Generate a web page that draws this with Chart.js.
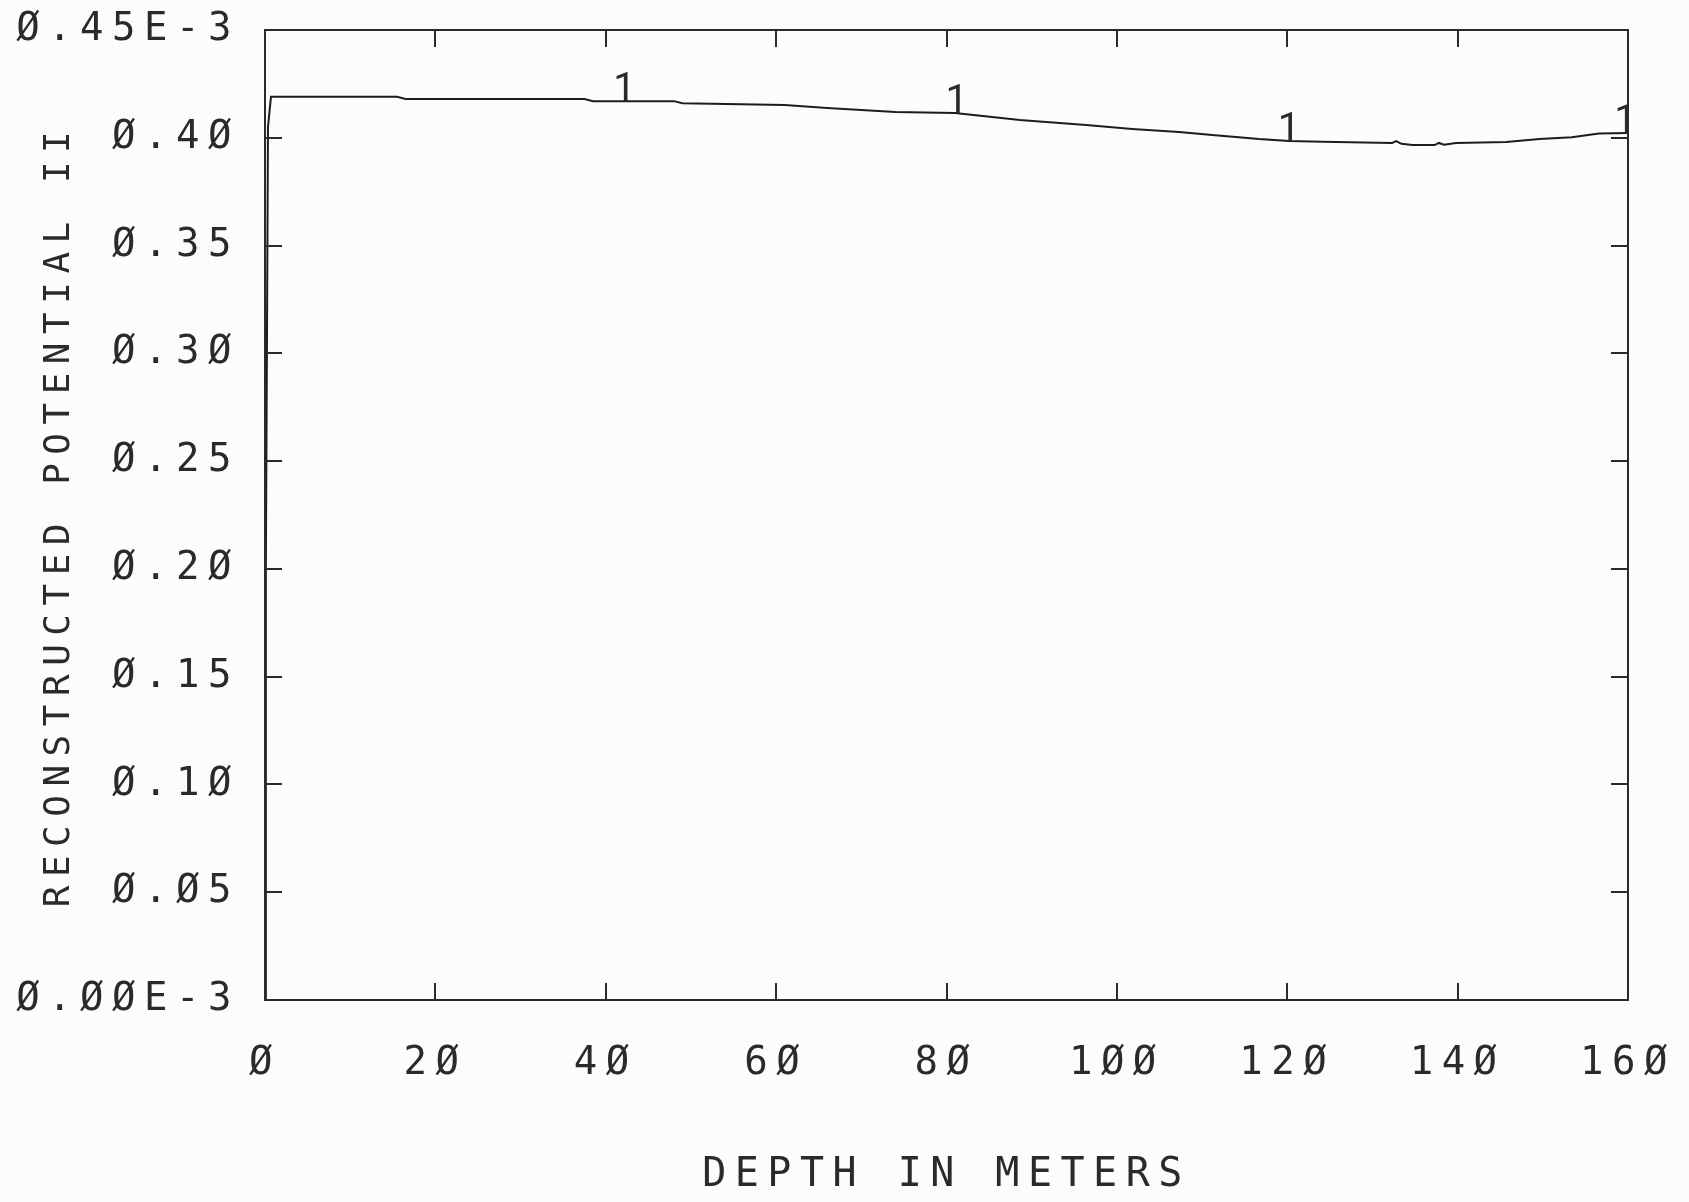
<!DOCTYPE html>
<html>
<head>
<meta charset="utf-8">
<title>Reconstructed potential vs depth</title>
<script src="https://cdn.jsdelivr.net/npm/chart.js@4.4.1/dist/chart.umd.min.js"></script>
<style>
  html, body { margin: 0; padding: 0; background: #fcfcfc; }
  #plot { display: block; }
</style>
</head>
<body>
<canvas id="plot" width="1689" height="1202"></canvas>
<script>
// depth in meters and potential (x 1E-3)
const depth = [0, 0.1, 0.35, 0.7, 15.5, 16.5, 37.5, 38.5, 48, 49, 61, 66, 74, 81,
    88.6, 96.4, 101.8, 107.3, 111.2, 116.7, 120.2, 124.1, 132.3, 132.8, 133.4,
    134.7, 137.3, 137.8, 138.4, 139.8, 145.7, 149.6, 153.4, 156.6, 160];
const potential = [0, 0.2, 0.405, 0.419, 0.419, 0.418, 0.418, 0.417, 0.417, 0.416,
    0.4152, 0.4138, 0.412, 0.4115, 0.4082, 0.4059, 0.4041, 0.4027, 0.4013, 0.3994,
    0.3985, 0.3981, 0.3976, 0.3985, 0.3972, 0.3966, 0.3966, 0.3976, 0.3968, 0.3976,
    0.398, 0.3994, 0.4003, 0.402, 0.4022];

// curve label "1" positions
const markerDepth = [42.2, 81.2, 120.2, 159.7];
const markerPotential = [0.4172, 0.4115, 0.3985, 0.402];

const xTicks = [0, 20, 40, 60, 80, 100, 120, 140, 160];
const xTickLabels = ['Ø', '2Ø', '4Ø', '6Ø', '8Ø', '1ØØ', '12Ø', '14Ø', '16Ø'];
const yTicks = [0, 0.05, 0.10, 0.15, 0.20, 0.25, 0.30, 0.35, 0.40, 0.45];
const yTickLabels = ['Ø.ØØE-3', 'Ø.Ø5', 'Ø.1Ø', 'Ø.15', 'Ø.2Ø', 'Ø.25', 'Ø.3Ø', 'Ø.35', 'Ø.4Ø', 'Ø.45E-3'];

const INK = '#2a2a2a';
const MONO = '"DejaVu Sans Mono", monospace';
const FONT = { family: MONO, size: 39, weight: 'normal', lineHeight: 1 };
const SPACING = '8.5px';
const TICK_LEN = 17;

function labelFor(values, labels, v) {
    const i = values.findIndex(t => Math.abs(t - v) < 1e-6);
    return i >= 0 ? labels[i] : '';
}

// plotter font is fixed pitch and widely spaced
const spacingPlugin = {
    id: 'spacing',
    beforeDraw(chart) {
        chart.ctx.letterSpacing = SPACING;
    }
};

// box frame with inward ticks on all four sides
const framePlugin = {
    id: 'frame',
    afterDraw(chart) {
        const { ctx, chartArea: a, scales: { x, y } } = chart;
        ctx.save();
        ctx.strokeStyle = INK;
        ctx.lineWidth = 2;
        ctx.strokeRect(a.left, a.top, a.right - a.left, a.bottom - a.top);
        ctx.beginPath();
        xTicks.slice(1, -1).forEach(v => {
            const px = Math.round(x.getPixelForValue(v));
            ctx.moveTo(px, a.bottom);
            ctx.lineTo(px, a.bottom - TICK_LEN);
            ctx.moveTo(px, a.top);
            ctx.lineTo(px, a.top + TICK_LEN);
        });
        yTicks.slice(1, -1).forEach(v => {
            const py = Math.round(y.getPixelForValue(v));
            ctx.moveTo(a.left, py);
            ctx.lineTo(a.left + TICK_LEN, py);
            ctx.moveTo(a.right, py);
            ctx.lineTo(a.right - TICK_LEN, py);
        });
        ctx.stroke();
        ctx.restore();
    }
};

// curve number labels sitting on the line
const curveLabelPlugin = {
    id: 'curveLabel',
    afterDatasetsDraw(chart) {
        const { ctx, scales: { x, y } } = chart;
        ctx.save();
        ctx.letterSpacing = '0px';
        ctx.fillStyle = INK;
        ctx.font = '400 40px Roboto, sans-serif';
        ctx.textAlign = 'center';
        ctx.textBaseline = 'alphabetic';
        markerDepth.forEach((d, i) => {
            ctx.fillText('1', x.getPixelForValue(d), y.getPixelForValue(markerPotential[i]));
        });
        ctx.restore();
    }
};

const ctx = document.getElementById('plot').getContext('2d');
const chart = new Chart(ctx, {
    type: 'line',
    data: {
        datasets: [{
            label: '1',
            data: depth.map((d, i) => ({ x: d, y: potential[i] })),
            borderColor: '#1c1c1c',
            borderWidth: 2,
            pointRadius: 0,
            tension: 0,
            fill: false
        }]
    },
    options: {
        responsive: false,
        animation: false,
        devicePixelRatio: 1,
        layout: { padding: { top: 30, right: 61, left: 0, bottom: 0 } },
        plugins: {
            legend: { display: false },
            tooltip: { enabled: false }
        },
        scales: {
            x: {
                type: 'linear',
                min: 0,
                max: 160,
                grid: { display: false, drawTicks: false },
                border: { display: false },
                afterBuildTicks: s => { s.ticks = xTicks.map(v => ({ value: v })); },
                afterFit: s => {
                    s.height = 202;
                    s.paddingLeft = 0;
                    s.paddingRight = 0;
                },
                ticks: {
                    autoSkip: false,
                    maxRotation: 0,
                    padding: 44,
                    color: INK,
                    font: FONT,
                    callback: v => labelFor(xTicks, xTickLabels, v)
                },
                title: {
                    display: true,
                    text: 'DEPTH IN METERS',
                    color: INK,
                    font: { family: MONO, size: 40, lineHeight: 1 },
                    padding: { top: 0, bottom: 6 }
                }
            },
            y: {
                type: 'linear',
                min: 0,
                max: 0.45,
                grid: { display: false, drawTicks: false },
                border: { display: false },
                afterBuildTicks: s => { s.ticks = yTicks.map(v => ({ value: v })); },
                afterFit: s => {
                    s.width = 265;
                    s.paddingTop = 0;
                    s.paddingBottom = 0;
                },
                ticks: {
                    autoSkip: false,
                    padding: 25,
                    color: INK,
                    font: FONT,
                    callback: v => labelFor(yTicks, yTickLabels, v)
                },
                title: {
                    display: true,
                    text: 'RECONSTRUCTED POTENTIAL II',
                    color: INK,
                    font: { family: MONO, size: 36, lineHeight: 1 },
                    padding: { top: 42, bottom: 0 }
                }
            }
        }
    },
    plugins: [spacingPlugin, framePlugin, curveLabelPlugin]
});
</script>
</body>
</html>
